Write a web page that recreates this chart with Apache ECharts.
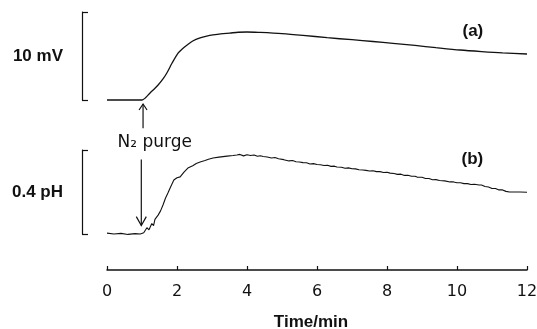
<!DOCTYPE html>
<html>
<head>
<meta charset="utf-8">
<script src="https://cdn.jsdelivr.net/npm/echarts@6/dist/echarts.min.js"></script>
<style>html,body{margin:0;padding:0;background:#fff}#c{width:537px;height:329px}</style>
</head>
<body>
<div id="c"></div>
<script>
// Time axis (minutes)
var xTicks = [0, 2, 4, 6, 8, 10, 12];

// Trace (a): potential, mV above baseline
var tA = [0, 0.5, 1.0, 1.1, 1.23, 1.35, 1.46, 1.6, 1.71, 1.86, 2.03, 2.15, 2.29, 2.45, 2.66, 2.85, 3.03, 3.25, 3.51, 3.75, 4.0, 4.37, 5.0, 5.6, 6.29, 7.0, 7.6, 8.17, 8.8, 9.4, 10.09, 10.7, 11.3, 12];
var vA = [0, 0, 0, 0.25, 0.8, 1.25, 1.7, 2.4, 3.07, 4.2, 5.34, 5.8, 6.25, 6.7, 7.05, 7.25, 7.39, 7.52, 7.61, 7.7, 7.73, 7.68, 7.55, 7.35, 7.08, 6.85, 6.65, 6.44, 6.2, 5.95, 5.68, 5.5, 5.35, 5.23];

// Trace (b): pH change above baseline
var tB = [0, 0.2, 0.4, 0.6, 0.8, 0.95, 1.05, 1.1, 1.14, 1.2, 1.28, 1.33, 1.37, 1.42, 1.46, 1.53, 1.6, 1.67, 1.74, 1.82, 1.91, 2.0, 2.09, 2.2, 2.31, 2.45, 2.55, 2.66, 2.8, 2.9, 3.03, 3.2, 3.43, 3.6, 3.71,
  3.8, 3.9, 4.0, 4.1, 4.2, 4.3, 4.38, 4.46, 4.58, 4.7, 4.8, 4.9, 5.05, 5.2, 5.3, 5.4, 5.5, 5.6, 5.7, 5.8, 5.9, 6.0, 6.1, 6.2, 6.3, 6.4, 6.5, 6.57, 6.7, 6.8, 6.9, 7.0, 7.1, 7.2, 7.25, 7.31, 7.4, 7.5, 7.6, 7.7, 7.8, 7.9, 8.0, 8.09, 8.2, 8.3, 8.4, 8.5, 8.6, 8.7, 8.8, 8.86, 9.0, 9.1, 9.2, 9.3, 9.4, 9.5, 9.65, 9.8, 9.9, 10.0, 10.1, 10.2, 10.3, 10.4, 10.5, 10.63, 10.7, 10.8, 10.9, 11.0, 11.1, 11.2, 11.3, 11.4, 11.45, 11.5, 11.6, 11.8, 12];
var vB = [0.004, 0.0, 0.003, -0.002, 0.002, 0.0, 0.006, 0.004, 0.03, 0.02, 0.05, 0.04, 0.07, 0.065, 0.09, 0.11, 0.138, 0.17, 0.195, 0.225, 0.257, 0.268, 0.272, 0.295, 0.314, 0.325, 0.336, 0.343, 0.35, 0.356, 0.362, 0.366, 0.371, 0.374, 0.376,
  0.379, 0.372, 0.377, 0.374, 0.376, 0.37, 0.373, 0.369, 0.367, 0.362, 0.364, 0.358, 0.354, 0.348, 0.35, 0.344, 0.343, 0.34, 0.339, 0.333, 0.335, 0.331, 0.33, 0.326, 0.327, 0.322, 0.323, 0.319, 0.318, 0.313, 0.315, 0.311, 0.31, 0.306, 0.308, 0.305, 0.303, 0.3, 0.301, 0.297, 0.297, 0.293, 0.294, 0.29, 0.288, 0.284, 0.285, 0.279, 0.28, 0.275, 0.275, 0.271, 0.27, 0.264, 0.264, 0.258, 0.259, 0.255, 0.253, 0.248, 0.248, 0.244, 0.244, 0.24, 0.24, 0.236, 0.237, 0.233, 0.233, 0.226, 0.224, 0.217, 0.217, 0.21, 0.21, 0.203, 0.207, 0.2, 0.2, 0.2, 0.199];

// Scale bars
var scaleA = [0, 10];   // mV
var scaleB = [0, 0.4];  // pH

function zip(t, v) { return t.map(function (x, i) { return [x, v[i]]; }); }

var ink = '#111';
var chart = echarts.init(document.getElementById('c'), null, { renderer: 'canvas' });

function yAx(gi, rng, name, padTop) {
  return {
    gridIndex: gi, type: 'value', min: rng[0], max: rng[1], interval: rng[1] - rng[0],
    position: 'left', offset: 25,
    axisLine: { show: true, onZero: false, lineStyle: { color: ink, width: 1.2 } },
    axisTick: { show: true, inside: true, length: 6, lineStyle: { color: ink, width: 1.2 } },
    axisLabel: { show: false }, splitLine: { show: false },
    name: name, nameLocation: 'middle', nameRotate: 0, nameGap: 19,
    nameTextStyle: { color: ink, fontFamily: 'Liberation Sans', fontWeight: 'bold', fontSize: 17, padding: [padTop, 0, 0, 0] }
  };
}

chart.setOption({
  animation: false,
  backgroundColor: '#fff',
  grid: [
    { left: 107, right: 10, top: 12, height: 88, containLabel: false, outerBoundsMode: 'none' },
    { left: 107, right: 10, top: 150, height: 84, containLabel: false, outerBoundsMode: 'none' }
  ],
  xAxis: [
    { gridIndex: 0, type: 'value', min: 0, max: 12, show: false },
    {
      gridIndex: 1, type: 'value', min: 0, max: 12, interval: 2, offset: 36,
      axisLine: { show: true, onZero: false, lineStyle: { color: ink, width: 1.5 } },
      axisTick: { show: true, inside: true, length: 4, lineStyle: { color: ink, width: 1.2 } },
      axisLabel: { color: ink, fontFamily: 'DejaVu Sans', fontSize: 16, margin: 14,
        customValues: xTicks },
      splitLine: { show: false },
      name: 'Time/min', nameLocation: 'middle', nameGap: 44,
      nameTextStyle: { color: ink, fontFamily: 'Liberation Sans', fontWeight: 'bold', fontSize: 17, padding: [0, 12, 0, 0] }
    }
  ],
  yAxis: [yAx(0, scaleA, '10 mV', 6), yAx(1, scaleB, '0.4 pH', 3)],
  series: [
    { type: 'line', xAxisIndex: 0, yAxisIndex: 0, data: zip(tA, vA), smooth: 0.3, showSymbol: false,
      lineStyle: { color: ink, width: 1.3 }, clip: false },
    { type: 'line', xAxisIndex: 1, yAxisIndex: 1, data: zip(tB, vB), smooth: false, showSymbol: false,
      lineStyle: { color: ink, width: 1.1 }, clip: false }
  ]
});

// Annotations anchored to the axes
var up1 = chart.convertToPixel({ gridIndex: 0 }, [1.03, -0.45]);
var up0 = chart.convertToPixel({ gridIndex: 0 }, [1.03, -3.2]);
var dn0 = chart.convertToPixel({ gridIndex: 1 }, [0.98, 0.355]);
var dn1 = chart.convertToPixel({ gridIndex: 1 }, [0.98, 0.04]);
var labA = chart.convertToPixel({ gridIndex: 0 }, [10.75, 7.8]);
var labB = chart.convertToPixel({ gridIndex: 1 }, [10.75, 0.358]);
var txt = chart.convertToPixel({ gridIndex: 1 }, [0.3, 0.435]);

var st = { stroke: ink, lineWidth: 1.2, fill: null };
chart.setOption({
  graphic: [
    { type: 'line', shape: { x1: up0[0], y1: up0[1], x2: up1[0], y2: up1[1] }, style: st },
    { type: 'polyline', shape: { points: [[up1[0] - 4, up1[1] + 6], [up1[0], up1[1]], [up1[0] + 4, up1[1] + 6]] }, style: st },
    { type: 'line', shape: { x1: dn0[0], y1: dn0[1], x2: dn1[0], y2: dn1[1] }, style: st },
    { type: 'polyline', shape: { points: [[dn1[0] - 5, dn1[1] - 9], [dn1[0], dn1[1]], [dn1[0] + 5, dn1[1] - 9]] }, style: st },
    { type: 'text', x: txt[0], y: txt[1],
      style: { text: 'N\u2082 purge', fill: ink, fontFamily: 'DejaVu Sans', fontSize: 17, align: 'left', verticalAlign: 'middle' } },
    { type: 'text', x: labA[0], y: labA[1],
      style: { text: '(a)', fill: ink, fontFamily: 'Liberation Sans', fontWeight: 'bold', fontSize: 17, align: 'right', verticalAlign: 'middle' } },
    { type: 'text', x: labB[0], y: labB[1],
      style: { text: '(b)', fill: ink, fontFamily: 'Liberation Sans', fontWeight: 'bold', fontSize: 17, align: 'right', verticalAlign: 'middle' } }
  ]
});
</script>
</body>
</html>
